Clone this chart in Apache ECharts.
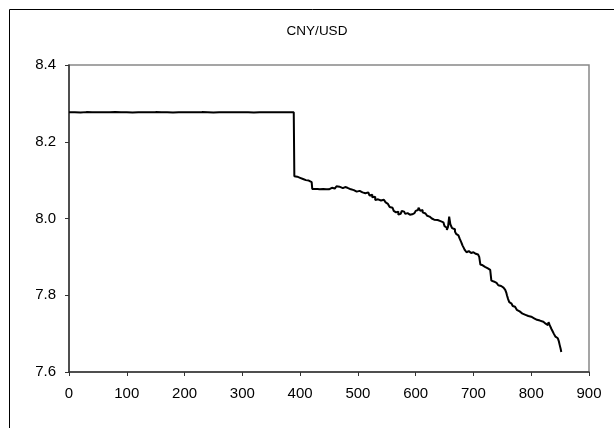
<!DOCTYPE html>
<html>
<head>
<meta charset="utf-8">
<script src="https://cdn.jsdelivr.net/npm/echarts@6/dist/echarts.min.js"></script>
<style>html,body{margin:0;padding:0;background:#fff}#c{width:614px;height:428px}</style>
</head>
<body>
<div id="c"></div>
<script>
var titleText = 'CNY/USD';
var xTicks = [0, 100, 200, 300, 400, 500, 600, 700, 800, 900];
var yTicks = [7.6, 7.8, 8.0, 8.2, 8.4];
var dayIndex = [0,10,20,30,40,50,60,70,80,90,100,110,120,130,140,150,160,170,180,190,200,210,220,230,240,250,260,270,280,290,300,310,320,330,340,350,360,370,380,389,
390,393,395,398,400,403,405,408,410,413,415,418,420,421,425,430,434,437,440,443,445,448,450,453,455,458,460,463,465,468,470,474,478,482,485,488,490,493,495,498,500,503,505,508,510,513,515,518,520,523,525,528,530,533,535,538,540,543,545,548,550,552,555,557,560,562,564,566,568,570,572,574,576,578,580,582,584,586,588,590,592,594,596,598,600,602,604,605,607,608,610,612,615,617,620,622,624,626,628,630,632,635,638,640,643,645,648,650,652,654,656,657,658,659,660,662,663,665,666,668,670,672,674,676,677,679,681,683,685,687,688,690,692,694,696,698,700,702,704,706,708,710,712,714,716,718,720,722,725,727,729,731,733,735,738,740,743,746,748,750,752,755,757,758,760,762,764,766,768,770,772,775,777,780,782,785,788,790,793,795,798,800,803,805,808,810,813,815,818,821,823,825,827,829,830,832,833,835,837,839,841,842,844,846,848,849,850,851,852,853];
var rate = [8.2770,8.2765,8.2772,8.2768,8.2771,8.2766,8.2770,8.2773,8.2767,8.2770,8.2765,8.2771,8.2769,8.2766,8.2772,8.2768,8.2770,8.2765,8.2771,8.2768,8.2770,8.2766,8.2772,8.2769,8.2765,8.2770,8.2768,8.2771,8.2766,8.2770,8.2769,8.2765,8.2771,8.2768,8.2770,8.2766,8.2771,8.2769,8.2770,8.2768,
8.110,8.109,8.107,8.106,8.104,8.103,8.101,8.100,8.098,8.099,8.096,8.095,8.093,8.077,8.077,8.076,8.075,8.077,8.075,8.076,8.078,8.076,8.077,8.080,8.082,8.078,8.080,8.084,8.083,8.079,8.079,8.082,8.080,8.077,8.076,8.078,8.074,8.073,8.070,8.072,8.072,8.069,8.068,8.070,8.066,8.064,8.068,8.066,8.060,8.062,8.055,8.057,8.048,8.050,8.052,8.047,8.046,8.049,8.050,8.042,8.038,8.035,8.030,8.028,8.024,8.020,8.016,8.014,8.018,8.010,8.012,8.016,8.020,8.018,8.016,8.012,8.014,8.012,8.010,8.008,8.011,8.010,8.014,8.018,8.020,8.022,8.018,8.028,8.024,8.020,8.022,8.016,8.013,8.009,8.007,8.005,8.003,8.000,8.001,7.997,7.998,7.996,7.994,7.993,7.992,7.990,7.986,7.980,7.976,7.970,7.978,7.975,8.005,7.995,7.985,7.980,7.975,7.978,7.972,7.966,7.960,7.956,7.952,7.948,7.944,7.938,7.930,7.924,7.918,7.914,7.912,7.915,7.914,7.910,7.911,7.912,7.913,7.908,7.910,7.906,7.905,7.900,7.880,7.878,7.876,7.874,7.872,7.870,7.868,7.866,7.862,7.838,7.836,7.834,7.832,7.828,7.826,7.824,7.822,7.820,7.816,7.814,7.806,7.800,7.790,7.782,7.778,7.776,7.772,7.770,7.765,7.762,7.758,7.753,7.752,7.750,7.749,7.748,7.746,7.747,7.744,7.745,7.740,7.741,7.736,7.737,7.734,7.733,7.731,7.728,7.726,7.724,7.722,7.725,7.730,7.722,7.718,7.712,7.706,7.700,7.697,7.692,7.688,7.684,7.679,7.672,7.668,7.660,7.652];

var pts = dayIndex.map(function (d, i) { return [d, rate[i]]; });
var font = '"Liberation Sans", Arial, sans-serif';
var chart = echarts.init(document.getElementById('c'));
chart.setOption({
  animation: false,
  backgroundColor: '#fff',
  graphic: [{
    type: 'rect', shape: { x: 9.5, y: 9.5, width: 700, height: 500 },
    style: { fill: 'none', stroke: '#000', lineWidth: 1 }, silent: true
  }, {
    type: 'text', x: 317, y: 31, silent: true,
    style: { text: titleText, fontFamily: font, fontSize: 13.5, fill: '#000',
      align: 'center', verticalAlign: 'middle' }
  }],
  grid: { left: 69, right: 25, top: 65, bottom: 56, show: true, borderColor: '#888', borderWidth: 1.5 },
  xAxis: {
    type: 'value', min: xTicks[0], max: xTicks[xTicks.length - 1], interval: 100,
    axisLine: { show: true, onZero: false, lineStyle: { color: '#333', width: 1.5 } },
    axisTick: { show: true, length: 4, lineStyle: { color: '#333' } },
    axisLabel: { margin: 14, fontFamily: font, fontSize: 15, color: '#000' },
    splitLine: { show: false }
  },
  yAxis: {
    type: 'value', min: yTicks[0], max: yTicks[yTicks.length - 1], interval: 0.2,
    axisLine: { show: true, onZero: false, lineStyle: { color: '#333', width: 1.5 } },
    axisTick: { show: true, length: 4, lineStyle: { color: '#333' } },
    axisLabel: { margin: 13, fontFamily: font, fontSize: 15, color: '#000',
      formatter: function (v) { return v.toFixed(1); } },
    splitLine: { show: false }
  },
  series: [{
    type: 'line', data: pts, step: 'end', showSymbol: false, symbol: 'none',
    lineStyle: { color: '#000', width: 2 }
  }]
});
</script>
</body>
</html>
